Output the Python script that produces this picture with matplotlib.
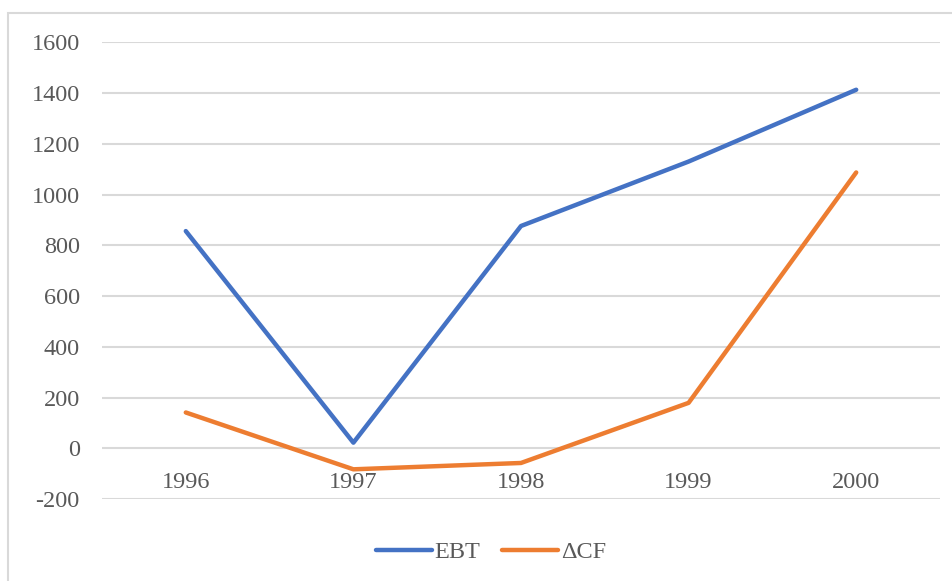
import matplotlib.pyplot as plt
from matplotlib.patches import Rectangle

# --- data ---
years = ["1996", "1997", "1998", "1999", "2000"]
ebt = [856, 22, 876, 1130, 1413]
delta_cf = [141, -83, -58, 179, 1087]
y_ticks = [-200, 0, 200, 400, 600, 800, 1000, 1200, 1400, 1600]

W, H = 953, 581
plt.rcParams['font.family'] = ['Liberation Serif', 'DejaVu Serif']
text_col = '#595959'
grid_col = '#d9d9d9'

fig = plt.figure(figsize=(W / 100, H / 100), dpi=100)

# chart frame (Excel-ish), cut off at right/bottom
fig.patches.append(Rectangle((8.5 / W, -0.1), 1.2, 1 - 13 / H + 0.1,
                             transform=fig.transFigure, fill=False,
                             edgecolor=grid_col, linewidth=1.5))

ax = fig.add_axes([102 / W, 1 - 499 / H, (940 - 102) / W, (499 - 42.3) / H])
x = list(range(len(years)))
ax.plot(x, ebt, color='#4472c4', lw=3.2, label='EBT', solid_capstyle='round', solid_joinstyle='round', zorder=3)
ax.plot(x, delta_cf, color='#ed7d31', lw=3.2, label='ΔCF', solid_capstyle='round', solid_joinstyle='round', zorder=3)

ax.set_xlim(-0.5, len(years) - 0.5)
ax.set_ylim(-200, 1600)
ax.set_yticks(y_ticks)
ax.set_yticklabels([str(v) for v in y_ticks], fontsize=17.5, color=text_col)
ax.yaxis.grid(True, color=grid_col, lw=1.5)
ax.set_axisbelow(True)
ax.tick_params(axis='y', length=0, pad=16)

# category labels sit just below the zero line
ax.set_xticks([])
for i, yr in enumerate(years):
    ax.text(i, -158, yr, ha='center', va='baseline', fontsize=17.5, color=text_col, zorder=2)

for s in ax.spines.values():
    s.set_visible(False)

leg = fig.legend(loc='center', bbox_to_anchor=(491 / W, 1 - 552 / H), ncol=2,
                 frameon=False, fontsize=17.5, handlelength=2.3, handletextpad=0.1,
                 columnspacing=0.9, labelcolor=text_col)
for h in leg.get_lines():
    h.set_solid_capstyle('round')

fig.savefig('out.png', dpi=100)
